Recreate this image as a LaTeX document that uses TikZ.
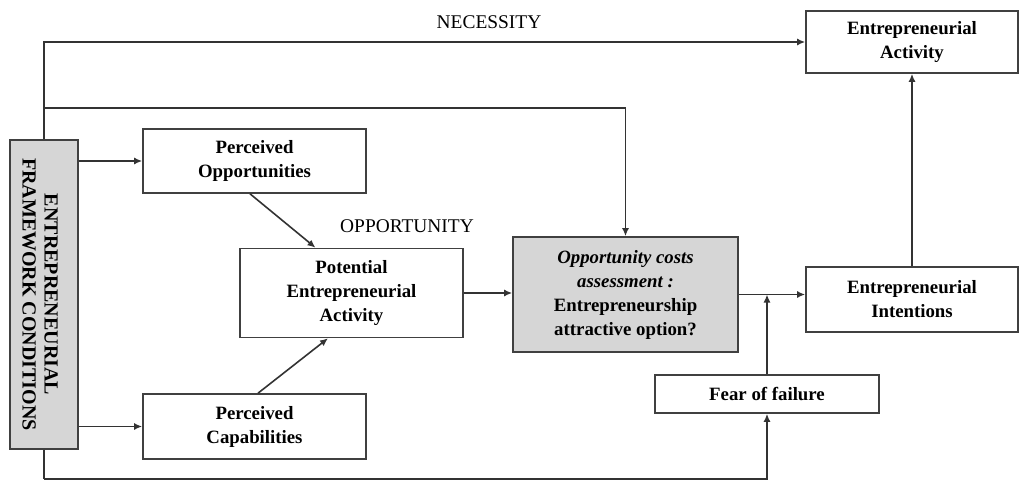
\documentclass[tikz,border=0pt]{standalone}
\usepackage{fontspec}
\setmainfont{Liberation Serif}
\usetikzlibrary{arrows.meta}

\tikzset{
  box/.style={draw=black!75, line width=0.8pt, align=center, inner sep=0pt,
    font=\fontsize{9.4}{12}\selectfont\bfseries},
  greybox/.style={box, fill=black!16},
  flow/.style={draw=black!80, line width=0.8pt, -{Latex[length=4pt,width=3.5pt]}},
  link/.style={draw=black!80, line width=0.8pt},
  tag/.style={font=\fontsize{9.7}{12}\selectfont},
}

\begin{document}
\begin{tikzpicture}[x=0.5pt,y=-0.5pt]
  \useasboundingbox (0,0) rectangle (1019,482);

  % Framework conditions
  \node[greybox, minimum width=34pt, minimum height=154.5pt] (efc) at (44,294.5) {};
  \node[rotate=-90, align=center, font=\fontsize{10}{11}\selectfont\bfseries] (efclabel)
    at ([xshift=-2pt]efc.center) {ENTREPRENEURIAL\\FRAMEWORK CONDITIONS};

  % Boxes
  \node[box, minimum width=111.5pt, minimum height=32pt] (opp) at (254.5,161) {Perceived\\Opportunities};
  \node[box, minimum width=111.5pt, minimum height=32.5pt] (cap) at (254.5,426.5) {Perceived\\Capabilities};
  \node[box, minimum width=111.5pt, minimum height=44.5pt] (pea) at (351.5,293) {Potential\\Entrepreneurial\\Activity};
  \node[greybox, minimum width=112.5pt, minimum height=57.5pt] (oca) at (625.5,294.5)
    {\textit{Opportunity costs}\\\textit{assessment :}\\Entrepreneurship\\attractive option?};
  \node[box, minimum width=106pt, minimum height=32.5pt] (ei) at (912,299.5) {Entrepreneurial\\Intentions};
  \node[box, minimum width=106pt, minimum height=31pt] (ea) at (912,42) {Entrepreneurial\\Activity};
  \node[box, minimum width=112pt, minimum height=19pt] (fof) at (767,394) {Fear of failure};

  % Labels
  \node[tag] (necessity) at (489,22) {NECESSITY};
  \node[tag] (opportunity) at (407,226) {OPPORTUNITY};

  % Necessity routes
  \coordinate (branch) at (44,108);
  \coordinate (under) at (44,479);
  \draw[flow] (efc.north) |- (ea.west);
  \draw[flow] (branch) -| (oca.north);
  \draw[link] (efc.south) -- (under);
  \draw[flow] (under) -| (fof.south);

  % Opportunity route
  \draw[flow] (efc.east |- opp.west) -- (opp.west);
  \draw[flow] (efc.east |- cap.west) -- (cap.west);
  \draw[flow] ([xshift=-2.25pt]opp.south) -- ([xshift=-18pt]pea.north);
  \draw[flow] ([xshift=1.75pt]cap.north) -- ([xshift=-11.75pt]pea.south);
  \draw[flow] (pea.east) -- (pea.east -| oca.west);
  \draw[flow] (oca.east) -- (oca.east -| ei.west);
  \draw[flow] (fof.north) -- (fof.north |- oca.east);
  \draw[flow] (ei.north) -- (ea.south);
\end{tikzpicture}
\end{document}
